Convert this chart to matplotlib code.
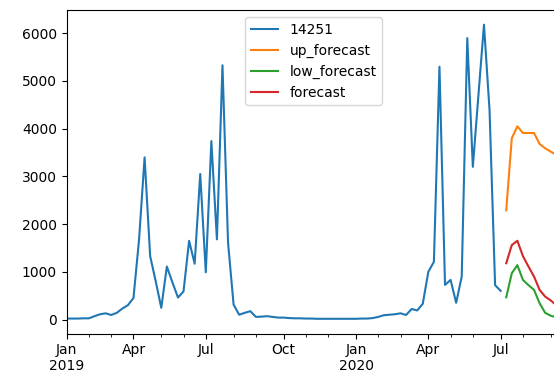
import numpy as np
import pandas as pd
import matplotlib
matplotlib.use("Agg")
import matplotlib.pyplot as plt

start_date = "2019-01-07"
week_freq = "W-MON"

actual_14251 = [
    20, 20, 20, 25, 25, 70, 110, 130, 95, 140,
    230, 300, 450, 1670, 3400, 1330, 800, 245, 1110, 780,
    460, 590, 1650, 1170, 3050, 990, 3740, 1680, 5330, 1610,
    310, 100, 140, 175, 55, 60, 70, 55, 40, 40,
    30, 25, 25, 20, 20, 15, 15, 15, 15, 15,
    15, 15, 15, 20, 20, 30, 55, 90, 100, 110,
    130, 95, 220, 190, 330, 1000, 1210, 5300, 725, 830,
    350, 900, 5900, 3200, 4700, 6180, 4390, 720, 600,
]

up_forecast = [2290, 3800, 4050, 3910, 3910, 3910, 3680, 3590, 3520, 3450]
low_forecast = [465, 970, 1140, 830, 720, 620, 340, 140, 80, 45]
forecast = [1180, 1560, 1650, 1330, 1110, 900, 620, 480, 400, 300]

n_act = len(actual_14251)
n_fc = len(forecast)
n_total = n_act + n_fc
nan_act = [np.nan] * n_act
nan_fc = [np.nan] * n_fc

index = pd.date_range(start_date, periods=n_total, freq=week_freq)
df = pd.DataFrame(
    {
        "14251": actual_14251 + nan_fc,
        "up_forecast": nan_act + up_forecast,
        "low_forecast": nan_act + low_forecast,
        "forecast": nan_act + forecast,
    },
    index=index,
)

fig = plt.figure(figsize=(5.54, 3.78), dpi=100)
ax = fig.add_axes([66.7 / 554, 1 - 333.5 / 378, (556.3 - 66.7) / 554, 323.5 / 378])
df.plot(ax=ax)
ax.legend(loc="upper left", bbox_to_anchor=(245 / 554, 1 - 17 / 378),
          bbox_transform=fig.transFigure, borderaxespad=0)

fig.savefig("out.png", dpi=100)
